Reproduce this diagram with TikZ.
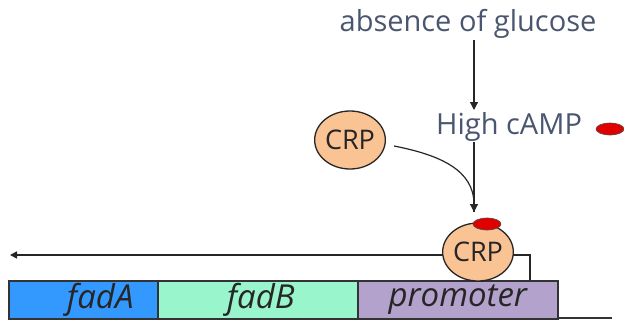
\documentclass[tikz,border=0pt]{standalone}
\usepackage{fontspec}
\setmainfont{Open Sans}
\usetikzlibrary{arrows.meta,shapes.geometric}
\definecolor{txt}{HTML}{4A5670}
\definecolor{fadAc}{HTML}{3399FF}
\definecolor{fadBc}{HTML}{99F5CC}
\definecolor{promc}{HTML}{B3A3CC}
\definecolor{crpc}{HTML}{F9C394}
\definecolor{camp}{HTML}{E00000}
\tikzset{
  gene/.style={draw=black!80, line width=1.5pt, minimum height=38pt, inner sep=0pt, anchor=north west, font=\itshape\fontsize{33}{33}\selectfont, text=black!85},
  crp/.style={ellipse, draw=black!85, line width=1.3pt, fill=crpc, minimum width=66pt, minimum height=58pt, inner sep=0pt, font=\fontsize{27}{27}\selectfont, text=black!85},
  campdot/.style={ellipse, draw=black!70, line width=0.6pt, fill=camp, minimum width=28pt, minimum height=12pt, inner sep=0pt},
  lbl/.style={text=txt, font=\fontsize{29}{29}\selectfont, inner sep=1pt},
  arr/.style={line width=1.2pt, draw=black!85, -{Triangle[length=8pt,width=8pt]}}
}
\begin{document}
\begin{tikzpicture}[x=1pt,y=-1pt]
\useasboundingbox (0,0) rectangle (624,322);
% baseline
\coordinate (b0) at (557,318);
\coordinate (b1) at (612,318);
\draw[line width=1.5pt, black!80] (b0) -- (b1);
% gene boxes
\node[gene, fill=fadAc, minimum width=149pt] (fadA) at (8,280) {\hspace*{34pt}fadA};
\node[gene, fill=fadBc, minimum width=200pt] (fadB) at (157,280) {\hspace*{6pt}fadB};
\node[gene, fill=promc, minimum width=200pt] (prom) at (357,280) {promoter};
% transcription arrow
\coordinate (tA) at (530,280);
\coordinate (tB) at (530,255);
\coordinate (tC) at (10,255);
\draw[line width=1.5pt, black!85, -{Triangle[length=7pt,width=7pt]}] (tA) -- (tB) -- (tC);
% bound CRP
\node[crp] (crp2) at (478,252) {CRP};
\node[campdot] (dot2) at (487,224) {};
% texts
\node[lbl] (abs) at (468,24) {absence of glucose};
\node[lbl, anchor=west] (cAMP) at (435,127) {High cAMP};
\node[campdot] (dot1) at (610,129) {};
% free CRP
\node[crp] (crp1) at (350,140) {CRP};
% arrows
\coordinate (v1) at (474,110);
\coordinate (v2) at (474,142);
\coordinate (v3) at (474,212);
\draw[arr] (abs.south -| v1) -- (v1);
\draw[line width=1.2pt, black!85] (v2) -- (v3);
\draw[arr] (crp1.east) ++(8,6) .. controls (440,155) and (474,170) .. (v3);
\end{tikzpicture}
\end{document}
